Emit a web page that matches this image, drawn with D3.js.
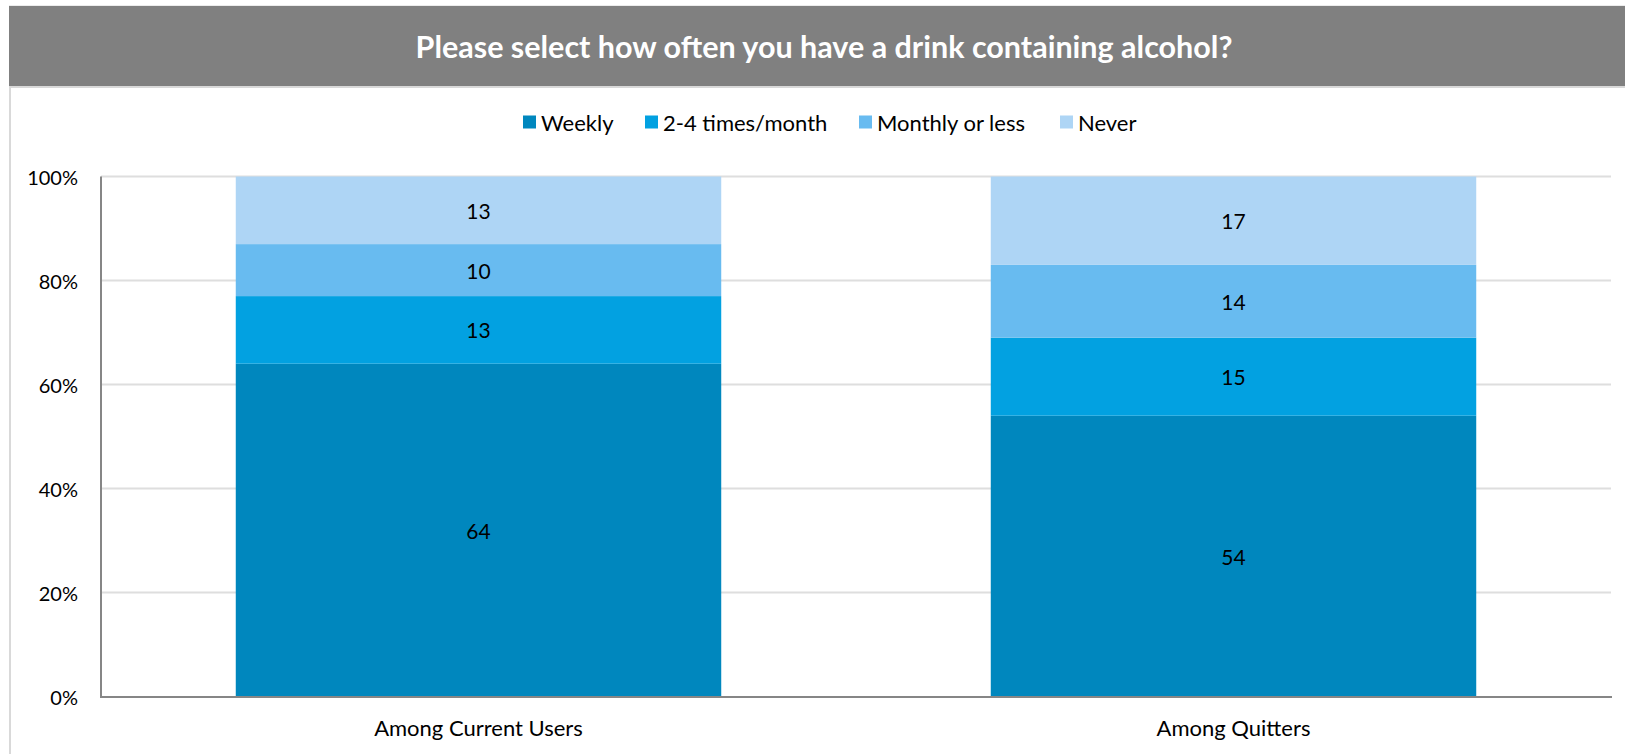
<!DOCTYPE html>
<html>
<head>
  <meta charset="utf-8">
  <script src="https://cdn.jsdelivr.net/npm/d3@7"></script>
  <style>
    body { margin: 0; background: #fff; }
    text { font-family: Lato, "Open Sans", sans-serif; }
  </style>
</head>
<body>
  <svg id="chart" width="1625" height="754"></svg>
  <script>
    // data
    var categories = ["Among Current Users", "Among Quitters"];
    var series = ["Weekly", "2-4 times/month", "Monthly or less", "Never"];
    var weekly = [64, 54];
    var twoToFour = [13, 15];
    var monthly = [10, 14];
    var never = [13, 17];
    var yTicks = [0, 20, 40, 60, 80, 100];
    var title = "Please select how often you have a drink containing alcohol?";

    var colors = ["#0087be", "#02a1e1", "#68bbf0", "#aed5f5"];

    var rows = categories.map(function(c, i) {
      return { cat: c, "Weekly": weekly[i], "2-4 times/month": twoToFour[i], "Monthly or less": monthly[i], "Never": never[i] };
    });

    var svg = d3.select("#chart");

    // outer frame + title bar
    svg.append("rect").attr("x", 10).attr("y", 6.5).attr("width", 1640).attr("height", 760)
      .attr("fill", "#fff").attr("stroke", "#d9d9d9").attr("stroke-width", 2);
    svg.append("rect").attr("x", 9).attr("y", 6).attr("width", 1616).attr("height", 80).attr("fill", "#808080");
    svg.append("line").attr("x1", 9).attr("x2", 1625).attr("y1", 87).attr("y2", 87)
      .attr("stroke", "#d9d9d9").attr("stroke-width", 2);
    svg.append("text").attr("x", 824).attr("y", 46).attr("text-anchor", "middle").attr("dominant-baseline", "central")
      .attr("fill", "#fff").attr("font-weight", "bold").attr("font-size", 30.5).text(title);

    var x = d3.scaleBand().domain(categories).range([101, 1611]).paddingInner(0.357).paddingOuter(0.1785);
    var y = d3.scaleLinear().domain([0, 100]).range([696.5, 176.5]);

    // gridlines
    svg.append("g").selectAll("line").data(yTicks.slice(1)).enter().append("line")
      .attr("x1", 101).attr("x2", 1611)
      .attr("y1", function(d) { return y(d); }).attr("y2", function(d) { return y(d); })
      .attr("stroke", "#dedede").attr("stroke-width", 2);

    // y tick labels
    svg.append("g").selectAll("text").data(yTicks).enter().append("text")
      .attr("x", 78).attr("y", function(d) { return y(d); })
      .attr("text-anchor", "end").attr("dominant-baseline", "central")
      .attr("font-size", 20).attr("fill", "#000")
      .text(function(d) { return d + "%"; });

    // stacked bars
    var stacked = d3.stack().keys(series)(rows);
    var layers = svg.append("g").selectAll("g").data(stacked).enter().append("g")
      .attr("fill", function(d, i) { return colors[i]; });

    layers.selectAll("rect").data(function(d) { return d; }).enter().append("rect")
      .attr("x", function(d) { return x(d.data.cat); })
      .attr("width", x.bandwidth())
      .attr("y", function(d) { return y(d[1]); })
      .attr("height", function(d) { return y(d[0]) - y(d[1]); });

    layers.selectAll("text").data(function(d) { return d; }).enter().append("text")
      .attr("x", function(d) { return x(d.data.cat) + x.bandwidth() / 2; })
      .attr("y", function(d) { return (y(d[0]) + y(d[1])) / 2; })
      .attr("text-anchor", "middle").attr("dominant-baseline", "central")
      .attr("font-size", 21).attr("fill", "#000")
      .text(function(d) { return d[1] - d[0]; });

    // axes lines
    svg.append("line").attr("x1", 101).attr("x2", 101).attr("y1", 176.5).attr("y2", 697.5)
      .attr("stroke", "#868686").attr("stroke-width", 2);
    svg.append("line").attr("x1", 100).attr("x2", 1612).attr("y1", 697).attr("y2", 697)
      .attr("stroke", "#868686").attr("stroke-width", 2);

    // x labels
    svg.append("g").selectAll("text").data(categories).enter().append("text")
      .attr("x", function(d) { return x(d) + x.bandwidth() / 2; })
      .attr("y", 727).attr("text-anchor", "middle").attr("dominant-baseline", "central")
      .attr("font-size", 22).attr("fill", "#000")
      .text(function(d) { return d; });

    // legend
    var legendX = [523, 645, 859, 1060];
    var legend = svg.append("g").selectAll("g").data(series).enter().append("g")
      .attr("transform", function(d, i) { return "translate(" + legendX[i] + ",122)"; });
    legend.append("rect").attr("x", 0).attr("y", -6.5).attr("width", 13).attr("height", 13)
      .attr("fill", function(d, i) { return colors[i]; });
    legend.append("text").attr("x", 18).attr("y", 0).attr("dominant-baseline", "central")
      .attr("font-size", 22).attr("fill", "#000")
      .text(function(d) { return d; });
  </script>
</body>
</html>
